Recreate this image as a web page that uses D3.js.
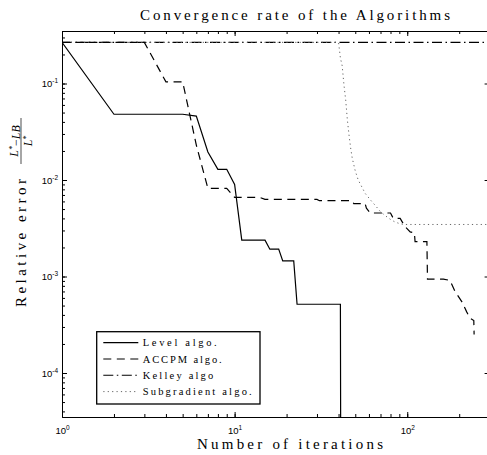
<!DOCTYPE html>
<html><head><meta charset="utf-8">
<script src="https://cdnjs.cloudflare.com/ajax/libs/d3/7.8.5/d3.min.js"></script>
<style>body{margin:0;background:#fff}</style>
</head><body><svg id="c" width="487" height="455"></svg>
<script>
// ---- data ----
const levelIter = [1,2,5,6,7,8,9,10,11,15,16,18,19,22,23,41,42];
const levelErr  = [0.267,0.048,0.048,0.046,0.0195,0.0129,0.0129,0.0090,0.00238,0.00238,0.00192,0.00192,0.00145,0.00145,0.000516,0.000516,1e-12];

const accpmIter = [1,3,4,5,6,7,9,10,14,15,30,31,48,49,57,58,61,80,83,91,97,104,110,111,130,131,162,177,189,207,221,231,243,244];
const accpmErr  = [0.267,0.267,0.104,0.104,0.023,0.0082,0.0082,0.0066,0.0066,0.0063,0.0063,0.0061,0.0061,0.0057,0.0057,0.0051,0.00455,0.00455,0.0040,0.0040,0.0033,0.0029,0.00284,0.0023,0.0023,0.00094,0.00094,0.00091,0.0007,0.00055,0.00043,0.00037,0.00035,0.00025];

const kelleyIter = [1,300];
const kelleyErr  = [0.267,0.267];

const subIter = [1,40,41,42,43,44,45,46,47,48,50,52,55,57,60,62,65,70,75,80,85,90,95,300];
const subErr  = [0.267,0.267,0.184,0.152,0.0964,0.0675,0.0419,0.0292,0.0215,0.0169,0.0124,0.0100,0.00826,0.00728,0.0065,0.00605,0.0055,0.00469,0.00424,0.0039,0.00367,0.00354,0.00346,0.00346];

const seriesNames = ["Level algo.","ACCPM algo.","Kelley algo","Subgradient algo."];
const xMajorTicks = [1,10,100];
const yMajorTicks = [1e-4,1e-3,1e-2,1e-1];
const titleText = "Convergence rate of the Algorithms";
const xLabelText = "Number of iterations";
const yLabelText = "Relative error";

// ---- layout ----
const L=62, R=489.6, T=31, B=417;
const svg = d3.select("#c");
const x = d3.scaleLog().domain([1,300]).range([L,R]);
const y = d3.scaleLog().domain([3.5e-5,0.35]).range([B,T]);

svg.append("clipPath").attr("id","clip").append("rect")
  .attr("x",L).attr("y",T).attr("width",R-L).attr("height",B-T);

const styles = [
  {dash:null, color:"#000", w:1.2},
  {dash:"8,5.5", color:"#000", w:1.2},
  {dash:"10,3.5,1.5,3.5", color:"#000", w:1.1},
  {dash:"1.2,3.2", color:"#666", w:1}
];
const series = [
  levelIter.map((d,i)=>[d,levelErr[i]]),
  accpmIter.map((d,i)=>[d,accpmErr[i]]),
  kelleyIter.map((d,i)=>[d,kelleyErr[i]]),
  subIter.map((d,i)=>[d,subErr[i]])
];
const line = d3.line().x(d=>x(d[0])).y(d=>y(d[1]));
const gLines = svg.append("g").attr("clip-path","url(#clip)");
[2,3,1,0].forEach(i=>{
  gLines.append("path").attr("d",line(series[i])).attr("fill","none")
    .attr("stroke",styles[i].color).attr("stroke-width",styles[i].w)
    .attr("stroke-dasharray",styles[i].dash);
});

// ---- axes ----
function supLabels(g){
  g.selectAll(".tick text").each(function(d){
    const e=Math.round(Math.log10(d));
    const t=d3.select(this); t.text(null);
    t.append("tspan").text("10");
    t.append("tspan").attr("dy","-0.55em").attr("font-size","6.5px").text(e);
  });
}
const tickFont = g=>g.attr("font-family","'Liberation Sans',Arial,sans-serif").attr("font-size","9.5px");
function styleAxis(g){ g.selectAll("path,line").attr("stroke","#000"); }

// minor ticks
svg.append("g").attr("transform",`translate(0,${B})`)
  .call(d3.axisBottom(x).tickValues(x.ticks()).tickSizeInner(-3).tickSizeOuter(0).tickFormat("")).call(styleAxis);
svg.append("g").attr("transform",`translate(0,${T})`)
  .call(d3.axisTop(x).tickValues(x.ticks()).tickSizeInner(-3).tickSizeOuter(0).tickFormat("")).call(styleAxis);
svg.append("g").attr("transform",`translate(${L},0)`)
  .call(d3.axisLeft(y).tickValues(y.ticks()).tickSizeInner(-3).tickSizeOuter(0).tickFormat("")).call(styleAxis);

// major ticks
svg.append("g").attr("transform",`translate(0,${B})`)
  .call(d3.axisBottom(x).tickValues(xMajorTicks).tickSizeInner(-5).tickSizeOuter(0).tickPadding(10))
  .call(tickFont).call(supLabels).call(styleAxis);
svg.append("g").attr("transform",`translate(0,${T})`)
  .call(d3.axisTop(x).tickValues(xMajorTicks).tickSizeInner(-5).tickSizeOuter(0).tickFormat("")).call(styleAxis);
svg.append("g").attr("transform",`translate(${L},0)`)
  .call(d3.axisLeft(y).tickValues(yMajorTicks).tickSizeInner(-5).tickSizeOuter(0).tickPadding(4))
  .call(tickFont).call(supLabels).call(styleAxis);
svg.append("g").attr("transform",`translate(${R},0)`)
  .call(d3.axisRight(y).tickValues(yMajorTicks).tickSizeInner(-5).tickSizeOuter(0).tickFormat("")).call(styleAxis);

// ---- texts ----
const serif = "'Liberation Serif','Times New Roman',serif";
svg.append("text").attr("x",140).attr("y",20).attr("font-family",serif).attr("font-size","15px")
  .attr("textLength",310).attr("lengthAdjust","spacing").text(titleText);
svg.append("text").attr("x",197).attr("y",449).attr("font-family",serif).attr("font-size","15px")
  .attr("textLength",186).attr("lengthAdjust","spacing").text(xLabelText);

const yl = svg.append("g").attr("transform","translate(26,307) rotate(-90)").attr("font-family",serif);
yl.append("text").attr("x",0).attr("y",0).attr("font-size","15px")
  .attr("textLength",128).attr("lengthAdjust","spacing").text(yLabelText);
const num = yl.append("text").attr("x",166).attr("y",-8).attr("text-anchor","middle")
  .attr("font-size","12px").attr("font-style","italic");
num.append("tspan").text("L");
num.append("tspan").attr("dy","-0.4em").attr("font-size","8px").text("*");
num.append("tspan").attr("dy","0.4em").attr("font-style","normal").text("\u2212");
num.append("tspan").text("LB");
yl.append("line").attr("x1",143).attr("x2",189).attr("y1",-5).attr("y2",-5).attr("stroke","#000").attr("stroke-width",0.7);
const den = yl.append("text").attr("x",166).attr("y",6).attr("text-anchor","middle")
  .attr("font-size","12px").attr("font-style","italic");
den.append("tspan").text("L");
den.append("tspan").attr("dy","-0.4em").attr("font-size","8px").text("*");

// ---- legend ----
const lg = svg.append("g");
lg.append("rect").attr("x",96.7).attr("y",331.7).attr("width",163.3).attr("height",72.3)
  .attr("fill","#fff").attr("stroke","#000").attr("stroke-width",1.3);
const legW = [74,79,70.6,109];
seriesNames.forEach((n,i)=>{
  const yy = 342.7 + i*16.3;
  lg.append("line").attr("x1",103.3).attr("x2",138.3).attr("y1",yy).attr("y2",yy)
    .attr("stroke",styles[i].color).attr("stroke-width",styles[i].w).attr("stroke-dasharray",styles[i].dash);
  lg.append("text").attr("x",142.7).attr("y",yy+3.5).attr("font-family",serif).attr("font-size","10.5px")
    .attr("textLength",legW[i]).attr("lengthAdjust","spacing").text(n);
});
</script></body></html>
